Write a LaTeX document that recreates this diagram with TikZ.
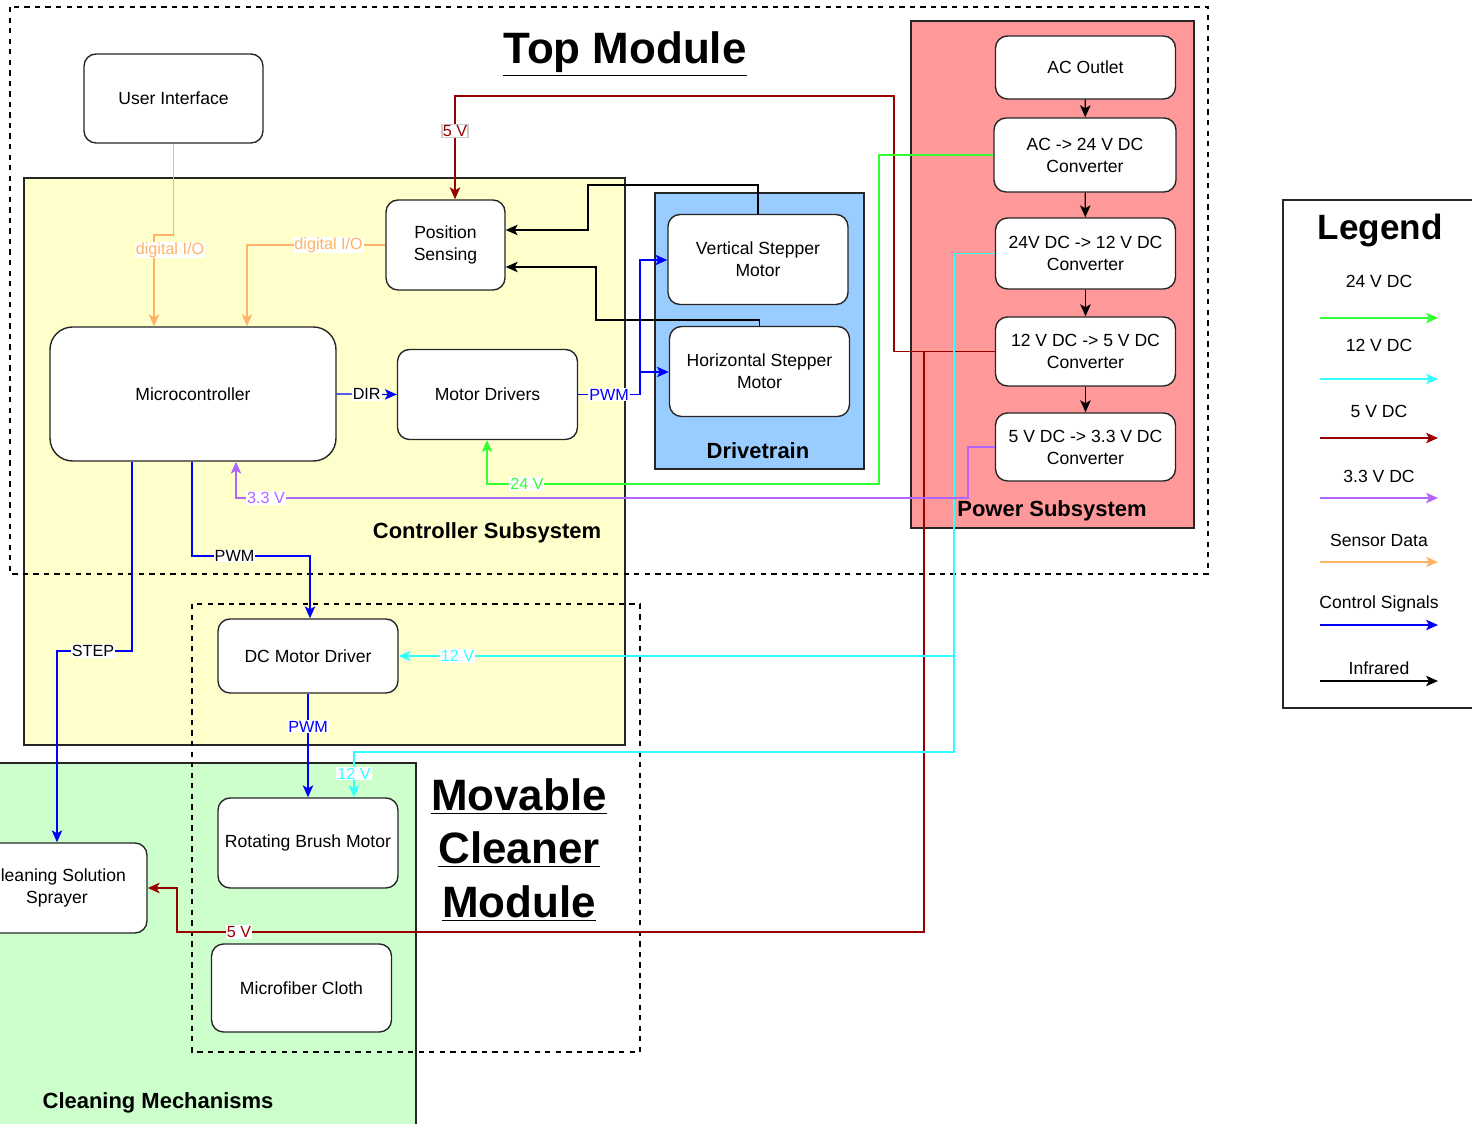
\documentclass[tikz,border=0pt]{standalone}
\usepackage{fontspec}
\setmainfont{Liberation Sans}
\usepackage{tikz}
\usetikzlibrary{arrows.meta}

\definecolor{ctrlfill}{HTML}{FFFFCC}
\definecolor{drivefill}{HTML}{99CCFF}
\definecolor{powerfill}{HTML}{FF9999}
\definecolor{cleanfill}{HTML}{CCFFCC}
\definecolor{c24}{HTML}{33FF33}
\definecolor{c12}{HTML}{33FFFF}
\definecolor{c5}{HTML}{990000}
\definecolor{c33}{HTML}{B266FF}
\definecolor{csensor}{HTML}{FFB366}
\definecolor{cctrl}{HTML}{0000FF}

\begin{document}
\begin{tikzpicture}[
    x=0.02cm, y=-0.02cm,
    block/.style={
      draw=black!85,
      fill=white,
      rounded corners=0.24cm,
      line width=0.8pt,
      align=center,
      inner sep=1pt,
      font=\fontsize{10}{12.5}\selectfont,
      minimum width=3.6cm,
      minimum height=1.8cm
    },
    grp/.style={draw=black!85, line width=0.8pt},
    grplabel/.style={font=\bfseries\fontsize{12.5}{15}\selectfont, inner sep=1pt},
    bigtitle/.style={font=\bfseries\fontsize{25}{30.5}\selectfont, align=center, inner sep=1pt},
    lbl/.style={fill=white, inner sep=0.5pt, font=\fontsize{9.2}{11}\selectfont},
    legtext/.style={font=\fontsize{10}{12}\selectfont, inner sep=1pt},
    wire/.style={-{Stealth[length=2.4mm,width=2.1mm,inset=0.6mm]}, line width=0.7pt},
    pw24/.style={wire, draw=c24},
    pw12/.style={wire, draw=c12},
    pw5/.style={wire, draw=c5},
    pw33/.style={wire, draw=c33},
    sensor/.style={wire, draw=csensor},
    ctrl/.style={wire, draw=cctrl},
    ir/.style={wire, draw=black}
  ]
    \useasboundingbox (0,0) rectangle (1472,1124);

    % group areas
    \draw[grp, fill=ctrlfill] (24,178) rectangle (625,745);
    \draw[grp, fill=drivefill] (655,193) rectangle (864,469);
    \draw[grp, fill=powerfill] (911,21) rectangle (1194,528);
    \draw[grp, fill=cleanfill] (-5,763) rectangle (416,1135);
    \draw[grp] (1283,200) rectangle (1485,708);
    \draw[dashed, line width=0.6pt] (10,7) rectangle (1208,574);
    \draw[dashed, line width=0.6pt] (192,604) rectangle (640,1052);

    \node[bigtitle] (toptitle) at (625,54) {\underline{Top Module}};
    \node[bigtitle] (movtitle) at (519,850) {\underline{Movable}\\\underline{Cleaner}\\\underline{Module}};
    \node[grplabel] (ctrllabel) at (487,533) {Controller Subsystem};
    \node[grplabel] (drivelabel) at (758,451) {Drivetrain};
    \node[grplabel] (powerlabel) at (1052,511) {Power Subsystem};
    \node[grplabel] (cleanlabel) at (158,1103) {Cleaning Mechanisms};

    % blocks
    \node[block, minimum width=3.58cm, minimum height=1.78cm] (ui) at (173.5,98.5) {User Interface};
    \node[block, minimum width=2.38cm] (ps) at (445.5,245) {Position\\Sensing};
    \node[block, minimum width=5.72cm, minimum height=2.68cm, rounded corners=0.45cm] (mc) at (193,394) {Microcontroller};
    \node[block] (md) at (487.5,394.5) {Motor Drivers};
    \node[block] (vsm) at (758,259.5) {Vertical Stepper\\Motor};
    \node[block] (hsm) at (759.5,371.5) {Horizontal Stepper\\Motor};
    \node[block, minimum height=1.26cm] (acout) at (1085.5,67.5) {AC Outlet};
    \node[block, minimum width=3.64cm, minimum height=1.48cm] (conv24) at (1085,155) {AC -> 24 V DC\\Converter};
    \node[block, minimum height=1.42cm] (conv12) at (1085.5,253.5) {24V DC -> 12 V DC\\Converter};
    \node[block, minimum height=1.38cm] (conv5) at (1085.5,351.5) {12 V DC -> 5 V DC\\Converter};
    \node[block, minimum height=1.36cm] (conv33) at (1085.5,447) {5 V DC -> 3.3 V DC\\Converter};
    \node[block, minimum height=1.48cm] (dcmd) at (308,656) {DC Motor Driver};
    \node[block] (brush) at (308,843) {Rotating Brush Motor};
    \node[block] (sprayer) at (57,888) {Cleaning Solution\\Sprayer};
    \node[block, minimum height=1.76cm] (cloth) at (301.5,988) {Microfiber Cloth};

    % power chain
    \draw[ir] (acout) -- (conv24);
    \draw[ir] (conv24) -- (conv12);
    \draw[ir] (conv12) -- (conv5);
    \draw[ir] (conv5) -- (conv33);

    % sensor data
    \draw[sensor] (ui.south) |- (154,235) -- (154,0 |- mc.north);
    \node[lbl, text=csensor] (dio1) at (170,250) {digital I/O};
    \draw[sensor] (ps.west) -- node[lbl, text=csensor, pos=0.41] (dio2) {digital I/O} (247,0 |- ps.west) -- (247,0 |- mc.north);

    % 5 V
    \coordinate (j5) at (924,0 |- conv5.west);
    \draw[pw5] (conv5.west) -- (894,0 |- conv5.west) -- (894,96) -- (455,96)
      -- node[lbl, text=c5, draw=black!20, pos=0.34] (v5a) {5 V} (455,0 |- ps.north);
    \draw[pw5] (j5) -- (924,932) -- node[lbl, text=c5, pos=0.917] (v5b) {5 V} (177,932) -- (177,888) -- (sprayer.east);

    % 24 V
    \draw[pw24] (conv24.west) -- (879,0 |- conv24.west) -- (879,484)
      -- node[lbl, text=c24, pos=0.898] (v24) {24 V} (487,484) -- (487,0 |- md.south);

    % 12 V
    \coordinate (j12) at (954,656);
    \draw[pw12] (conv12.west) -- (954,0 |- conv12.west) -- (j12)
      -- node[lbl, text=c12, pos=0.894] (v12a) {12 V} (dcmd.east |- j12);
    \draw[pw12] (j12) -- (954,752) -- (354,752) -- node[lbl, text=c12, pos=0.48] (v12b) {12 V} (354,0 |- brush.north);

    % 3.3 V
    \draw[pw33] (conv33.west) -- (968,0 |- conv33.west) -- (968,498)
      -- node[lbl, text=c33, pos=0.959] (v33) {3.3 V} (236,498) -- (236,0 |- mc.south);

    % control signals
    \draw[ctrl] (mc.east) -- node[lbl] (dir) {DIR} (md.west);
    \coordinate (jpwm) at (640,372);
    \draw[ctrl] (md.east) -- node[lbl, text=cctrl] (pwm1) {PWM} (640,0 |- md.east) -- (640,260) -- (vsm.west |- 0,260);
    \draw[ctrl] (jpwm) -- (hsm.west |- jpwm);
    \draw[ctrl] (192,0 |- mc.south) -- (192,556) -- node[lbl, pos=0.36] (pwm2) {PWM} (310,556) -- (310,0 |- dcmd.north);
    \draw[ctrl] (132,0 |- mc.south) -- (132,651) -- node[lbl, pos=0.52] (step) {STEP} (57,651) -- (sprayer.north);
    \draw[ctrl] (dcmd.south) -- node[lbl, text=cctrl, pos=0.32] (pwm3) {PWM} (brush.north);

    % infrared
    \draw[ir] (vsm.north) |- (588,185) -- (588,230) -- (ps.east |- 0,230);
    \draw[ir] (hsm.north) |- (596,320) -- (596,267) -- (ps.east |- 0,267);

    % legend
    \node[font=\bfseries\fontsize{20}{24}\selectfont] (legtitle) at (1380,230) {Legend};
    \foreach \txt/\ty/\ay/\sty [count=\i] in {24 V DC/281/318/pw24, 12 V DC/345/379/pw12,
        5 V DC/411/438/pw5, 3.3 V DC/476/498/pw33, Sensor Data/540/562/sensor,
        Control Signals/604/625/ctrl, Infrared/668/681/ir}{
      \node[legtext] (leg\i) at (1379,\ty) {\txt};
      \coordinate (lega\i) at (1320,\ay);
      \coordinate (legb\i) at (1438,\ay);
      \draw[\sty] (lega\i) -- (legb\i);
    }
  \end{tikzpicture}
\end{document}
